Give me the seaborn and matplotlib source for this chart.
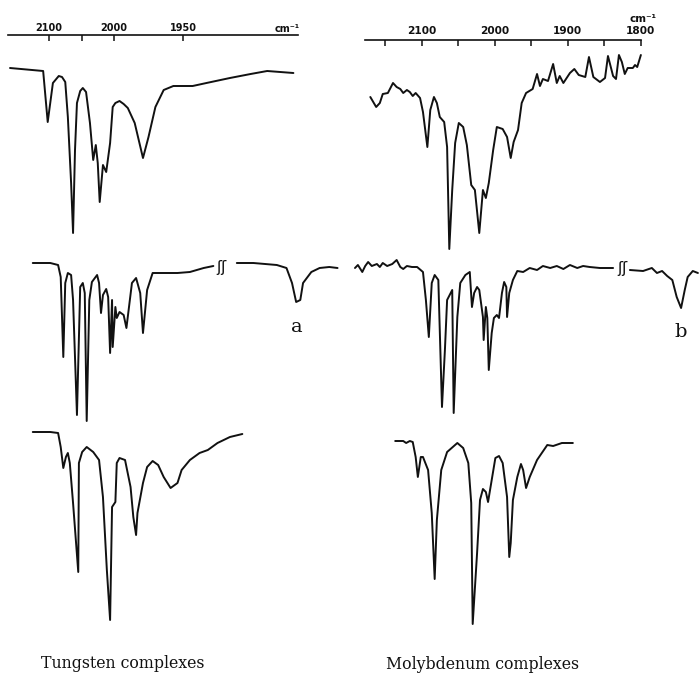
import numpy as np
import matplotlib.pyplot as plt
import seaborn as sns

# IR spectra (carbonyl region), wavenumber in cm-1 and relative transmittance
# (0 = bottom of the strongest band of each trace)

# tungsten complexes
w1_wn = [2160, 2109, 2102, 2094, 2085, 2080, 2075, 2071, 2066, 2063, 2060, 2057, 2052, 2048, 2043, 2037,
         2032, 2028, 2025, 2022, 2017, 2012, 2006, 2002, 1999, 1996, 1993, 1990, 1985, 1979, 1975, 1970,
         1964, 1957, 1943, 1933, 1916, 1901, 1889, 1870]
w1_t = [165, 162, 111, 150, 157, 156, 151, 116, 50, 0, 83, 130, 142, 145, 141, 110,
        73, 88, 70, 31, 68, 61, 90, 126, 130, 132, 129, 125, 110, 75, 96, 126,
        143, 147, 147, 150, 155, 159, 162, 160]

w2_wn = [2125, 2098, 2086, 2082, 2078, 2075, 2071, 2066, 2063, 2057, 2052, 2048, 2045, 2042, 2038, 2034,
         2026, 2023, 2020, 2017, 2012, 2009, 2006, 2003, 2002, 1999, 1998, 1996, 1993, 1991, 1987, 1984,
         1981, 1979, 1976, 1972, 1967, 1954, 1945, 1935, 1928]
w2_t = [158, 158, 156, 144, 64, 138, 148, 146, 121, 6, 134, 138, 128, 0, 121, 139,
        146, 138, 108, 126, 132, 124, 68, 121, 74, 114, 103, 109, 106, 93, 138, 143,
        128, 88, 131, 148, 148, 148, 149, 153, 155]
# part after the axis break
w2b_wn = [1911, 1899, 1882, 1875, 1871, 1868, 1865, 1863, 1857, 1851, 1844, 1838]
w2b_t = [158, 158, 156, 153, 138, 119, 121, 138, 149, 153, 154, 153]

w3_wn = [2125, 2098, 2086, 2082, 2078, 2074, 2071, 2068, 2063, 2055, 2054, 2049, 2042, 2032, 2023, 2017,
         2011, 2006, 2003, 1999, 1998, 1996, 1992, 1988, 1986, 1984, 1983, 1979, 1976, 1972, 1968, 1964,
         1959, 1954, 1951, 1945, 1938, 1932, 1925, 1916, 1907]
w3_t = [188, 188, 187, 173, 152, 163, 167, 157, 117, 48, 157, 168, 173, 168, 160, 123,
        50, 0, 113, 118, 157, 162, 160, 133, 103, 85, 107, 137, 153, 159, 155, 143,
        132, 137, 150, 160, 167, 170, 177, 183, 186]

# molybdenum complexes
m1_wn = [2170, 2162, 2157, 2153, 2146, 2139, 2134, 2129, 2125, 2120, 2116, 2112, 2108, 2102, 2098, 2092,
         2088, 2083, 2079, 2075, 2069, 2065, 2062, 2058, 2054, 2049, 2043, 2038, 2032, 2027, 2021, 2016,
         2012, 2008, 2002, 1997, 1989, 1983, 1978, 1974, 1968, 1963, 1957, 1948, 1942, 1938, 1934, 1927,
         1920, 1915, 1911, 1906, 1897, 1891, 1885, 1876, 1871, 1865, 1856, 1849, 1845, 1838, 1834, 1830,
         1826, 1822, 1818, 1811, 1808, 1805, 1800]
m1_t = [152, 142, 146, 155, 156, 166, 162, 160, 156, 159, 157, 153, 156, 151, 137, 102,
        139, 152, 146, 132, 127, 102, 0, 59, 106, 126, 122, 104, 64, 59, 16, 59,
        51, 66, 99, 122, 120, 112, 91, 107, 119, 146, 156, 160, 175, 163, 170, 168,
        185, 166, 173, 166, 176, 180, 174, 172, 192, 172, 167, 171, 193, 173, 170, 194,
        187, 175, 181, 181, 184, 182, 194]

m2_wn = [2191, 2187, 2181, 2177, 2173, 2168, 2161, 2157, 2153, 2147, 2140, 2134, 2129, 2125, 2120, 2113,
         2106, 2098, 2094, 2090, 2086, 2082, 2077, 2072, 2068, 2065, 2058, 2056, 2051, 2047, 2040, 2034,
         2031, 2028, 2024, 2021, 2016, 2015, 2012, 2010, 2008, 2004, 2001, 1997, 1994, 1990, 1987, 1984,
         1983, 1980, 1975, 1969, 1961, 1952, 1942, 1934, 1924, 1915, 1906, 1897, 1887, 1879, 1870, 1856,
         1838]
m2_t = [145, 148, 141, 147, 151, 147, 149, 146, 150, 147, 149, 153, 146, 144, 147, 146,
        146, 141, 113, 76, 130, 138, 133, 6, 63, 113, 123, 0, 96, 130, 138, 141,
        106, 120, 126, 123, 96, 73, 106, 95, 43, 80, 95, 98, 95, 120, 131, 126,
        96, 120, 133, 142, 141, 145, 143, 147, 145, 147, 144, 148, 145, 147, 146, 145,
        145]
m2b_wn = [1815, 1797, 1785, 1778, 1771, 1764, 1757, 1751, 1745, 1740, 1736, 1729, 1722]
m2b_t = [143, 142, 145, 140, 142, 137, 133, 116, 105, 123, 136, 142, 140]

m3_wn = [2136, 2125, 2121, 2116, 2112, 2108, 2105, 2101, 2098, 2091, 2086, 2082, 2079, 2073, 2065, 2051,
         2043, 2036, 2032, 2030, 2024, 2020, 2016, 2012, 2009, 2004, 1999, 1994, 1989, 1983, 1980, 1978,
         1975, 1969, 1964, 1961, 1957, 1952, 1942, 1928, 1920, 1908, 1893]
m3_t = [183, 183, 181, 183, 182, 167, 147, 167, 167, 154, 111, 45, 104, 154, 172, 181,
        176, 161, 121, 0, 71, 124, 135, 132, 122, 144, 166, 168, 161, 127, 67, 81,
        124, 147, 160, 154, 136, 147, 164, 179, 178, 181, 181]

w_ticks = [2100, 2050, 2000, 1950]
w_labels = ['2100', '', '2000', '1950']
m_ticks = [2150, 2100, 2050, 2000, 1950, 1900, 1850, 1800]
m_labels = ['', '2100', '', '2000', '', '1900', '', '1800']

sns.set_style("white")
plt.rcParams['font.family'] = ['DejaVu Sans']

fig = plt.figure(figsize=(6.99, 6.77), dpi=100)
ax_w = fig.add_axes([0, 0, 349 / 699, 642 / 677])
ax_m = fig.add_axes([350 / 699, 0, 349 / 699, 637 / 677])

# the tungsten chart has a scale change at 2000 cm-1
def fwd(w):
    return np.interp(w, [1700, 2000, 2200], [-528, -114, 16])

def inv(t):
    return np.interp(t, [-528, -114, 16], [1700, 2000, 2200])

ax_w.set_xscale('function', functions=(fwd, inv))
ax_w.set_xlim(2175.4, 1829.7)
ax_w.set_ylim(-642, 0)
ax_m.set_xlim(2197.8, 1720.5)
ax_m.set_ylim(-637, 0)

ink = '#111111'
traces = [
    (ax_w, w1_wn, w1_t, -198), (ax_w, w2_wn, w2_t, -386), (ax_w, w2b_wn, w2b_t, -386),
    (ax_w, w3_wn, w3_t, -585),
    (ax_m, m1_wn, m1_t, -209), (ax_m, m2_wn, m2_t, -373), (ax_m, m2b_wn, m2b_t, -373),
    (ax_m, m3_wn, m3_t, -584),
]
for ax, wn, t, off in traces:
    sns.lineplot(x=wn, y=np.array(t) + off, ax=ax, sort=False, estimator=None,
                 color=ink, linewidth=1.4, solid_joinstyle='round', solid_capstyle='round')

for ax, ticks, labels, bounds, fs, pad in [(ax_w, w_ticks, w_labels, (2163, 1867), 7.0, 1.5),
                                           (ax_m, m_ticks, m_labels, (2177, 1800), 7.6, 3.0)]:
    for side in ['left', 'right', 'bottom']:
        ax.spines[side].set_visible(False)
    ax.spines['top'].set_bounds(*bounds)
    ax.spines['top'].set_linewidth(1.2)
    ax.spines['top'].set_color(ink)
    ax.xaxis.tick_top()
    ax.set_xticks(ticks)
    ax.set_xticklabels(labels, fontweight='bold')
    ax.tick_params(axis='x', direction='in', length=4.5, width=1.1, pad=pad,
                   labelsize=fs, colors=ink)
    ax.set_yticks([])
    ax.set_xlabel('')
    ax.set_ylabel('')
    ax.patch.set_alpha(0)

W, H = 699, 677
fig.text(287 / W, 1 - 29 / H, 'cm⁻¹', ha='center', va='center', fontsize=7, fontweight='bold', color=ink)
fig.text(643 / W, 1 - 19 / H, 'cm⁻¹', ha='center', va='center', fontsize=7.6, fontweight='bold', color=ink)

# axis break marks
fig.text(221 / W, 1 - 267 / H, 'ʃʃ', ha='center', va='center', fontsize=11, color=ink)
fig.text(622 / W, 1 - 269 / H, 'ʃʃ', ha='center', va='center', fontsize=11, color=ink)

serif = ['DejaVu Serif']
fig.text(297 / W, 1 - 332 / H, 'a', ha='center', va='baseline', fontsize=14, family=serif, color=ink)
fig.text(681 / W, 1 - 337 / H, 'b', ha='center', va='baseline', fontsize=14, family=serif, color=ink)
fig.text(123 / W, 1 - 668 / H, 'Tungsten complexes', ha='center', va='baseline', fontsize=11.3,
         family=serif, color=ink)
fig.text(483 / W, 1 - 669 / H, 'Molybdenum complexes', ha='center', va='baseline', fontsize=11.3,
         family=serif, color=ink)

fig.savefig('out.png', dpi=100)
